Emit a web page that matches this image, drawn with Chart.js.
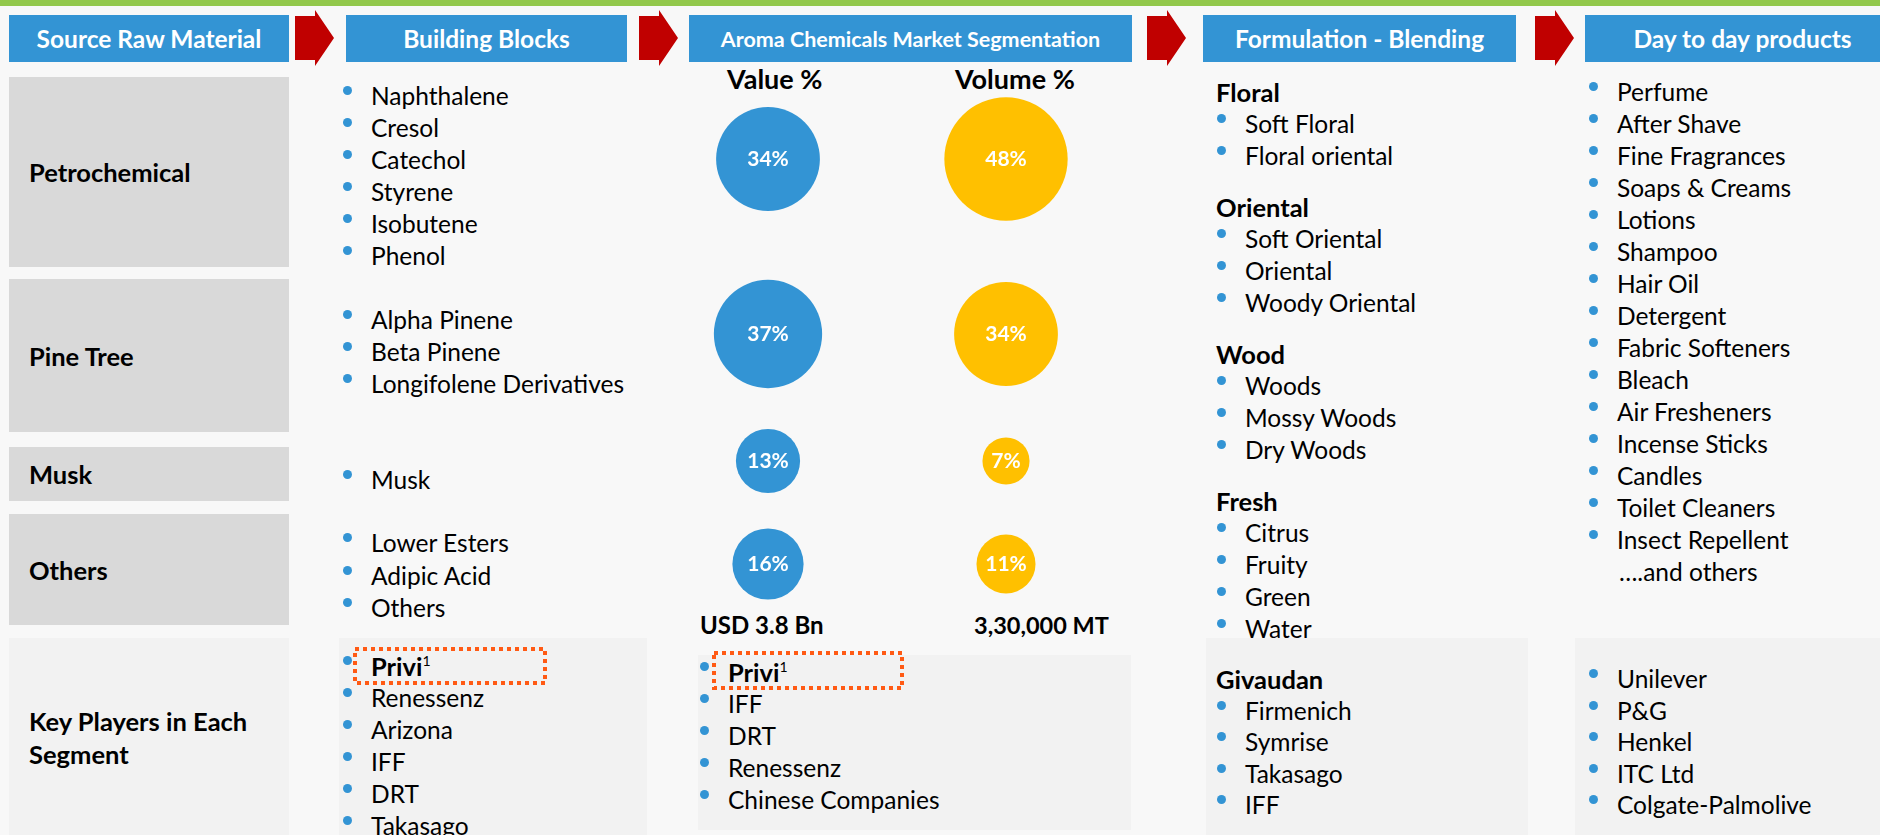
<!DOCTYPE html>
<html>
<head>
<meta charset="utf-8">
<title>Aroma Chemicals Market Segmentation</title>
<script src="https://cdn.jsdelivr.net/npm/chart.js@4.4.1/dist/chart.umd.min.js"></script>
<style>
  html, body { margin: 0; padding: 0; }
  body { width: 1880px; height: 835px; overflow: hidden; position: relative; background: #f8f8f8; font-family: Lato, "Open Sans", sans-serif; color: #000; }
  .topbar { position: absolute; left: 0; top: 0; width: 1880px; height: 6px; background: #92c84c; }
  .head { position: absolute; top: 15px; height: 47px; background: #3394d4; color: #fff; font-weight: bold; font-size: 24.5px; display: flex; align-items: center; justify-content: center; white-space: nowrap; }
  .cell { position: absolute; left: 9px; width: 280px; background: #d9d9d9; font-weight: bold; font-size: 25.5px; display: flex; align-items: center; padding-left: 20px; box-sizing: border-box; }
  .panel { position: absolute; background: #f2f2f2; }
  .item { position: absolute; height: 32px; line-height: 32px; font-size: 24.5px; white-space: nowrap; }
  .item.dot::before { content: ""; position: absolute; left: -28px; top: 6px; width: 9px; height: 9px; border-radius: 50%; background: #3394d4; }
  .item.bold { font-weight: bold; font-size: 25.5px; }
  .item sup { font-size: 14px; line-height: 0; vertical-align: 10px; font-weight: normal; }
  .big { position: absolute; font-weight: bold; font-size: 27px; white-space: nowrap; height: 32px; line-height: 32px; }
  canvas.row { position: absolute; left: 649px; }
  svg.over { position: absolute; left: 0; top: 0; }
</style>
</head>
<body>
<div class="topbar"></div>

<div class="head" style="left:9px;width:280px;">Source Raw Material</div>
<div class="head" style="left:346px;width:281px;">Building Blocks</div>
<div class="head" style="left:689px;width:443px;font-size:21.5px;">Aroma Chemicals Market Segmentation</div>
<div class="head" style="left:1203px;width:313px;">Formulation - Blending</div>
<div class="head" style="left:1585px;width:315px;">Day to day products</div>

<div class="cell" style="top:77px;height:190px;">Petrochemical</div>
<div class="cell" style="top:279px;height:153px;">Pine Tree</div>
<div class="cell" style="top:447px;height:54px;">Musk</div>
<div class="cell" style="top:514px;height:111px;">Others</div>
<div class="cell" style="top:638px;height:200px;background:#f2f2f2;line-height:33px;">Key Players in Each<br>Segment</div>

<div class="panel" style="left:339px;top:638px;width:308px;height:200px;"></div>
<div class="panel" style="left:698px;top:655px;width:433px;height:175px;"></div>
<div class="panel" style="left:1206px;top:638px;width:322px;height:200px;"></div>
<div class="panel" style="left:1575px;top:638px;width:310px;height:200px;"></div>

<div class="big" style="left:727px;top:63px;">Value %</div>
<div class="big" style="left:955px;top:63px;">Volume %</div>
<div class="big" style="left:700px;top:609px;font-size:24px;">USD 3.8 Bn</div>
<div class="big" style="left:974px;top:609px;font-size:23.5px;">3,30,000 MT</div>

<svg class="over" width="1880" height="835">
  <g fill="#c00000">
    <polygon points="295,16 315,16 315,10 334,38 315,66 315,60 295,60"/>
    <polygon points="639,16 659,16 659,10 678,38 659,66 659,60 639,60"/>
    <polygon points="1147,16 1167,16 1167,10 1186,38 1167,66 1167,60 1147,60"/>
    <polygon points="1535,16 1555,16 1555,10 1574,38 1555,66 1555,60 1535,60"/>
  </g>
  <g fill="none" stroke="#ff5a14" stroke-width="4" stroke-dasharray="4 4">
    <rect x="355" y="649" width="190" height="34"/>
    <rect x="714" y="653" width="188" height="35"/>
  </g>
</svg>

<script>
// market split by source raw material
const segments = ["Petrochemical", "Pine Tree", "Musk", "Others"];
const valueShare = [34, 37, 13, 16];
const volumeShare = [48, 34, 7, 11];
const shareLabels = ["Value %", "Volume %"];

// text columns
const petroBlocks = ["Naphthalene", "Cresol", "Catechol", "Styrene", "Isobutene", "Phenol"];
const pineBlocks = ["Alpha Pinene", "Beta Pinene", "Longifolene Derivatives"];
const muskBlocks = ["Musk"];
const otherBlocks = ["Lower Esters", "Adipic Acid", "Others"];
const blockPlayers = ["Privi", "Renessenz", "Arizona", "IFF", "DRT", "Takasago"];
const aromaPlayers = ["Privi", "IFF", "DRT", "Renessenz", "Chinese Companies"];
const blendGroups = [
  ["Floral", ["Soft Floral", "Floral oriental"]],
  ["Oriental", ["Soft Oriental", "Oriental", "Woody Oriental"]],
  ["Wood", ["Woods", "Mossy Woods", "Dry Woods"]],
  ["Fresh", ["Citrus", "Fruity", "Green", "Water"]]
];
const blendPlayers = ["Firmenich", "Symrise", "Takasago", "IFF"];
const products = ["Perfume", "After Shave", "Fine Fragrances", "Soaps & Creams", "Lotions", "Shampoo", "Hair Oil",
  "Detergent", "Fabric Softeners", "Bleach", "Air Fresheners", "Incense Sticks", "Candles", "Toilet Cleaners", "Insect Repellent"];
const productPlayers = ["Unilever", "P&G", "Henkel", "ITC Ltd", "Colgate-Palmolive"];

function addItem(text, x, yc, cls) {
  const d = document.createElement("div");
  d.className = "item " + (cls || "dot");
  d.style.left = x + "px";
  d.style.top = (yc - 16) + "px";
  d.textContent = text;
  if (text === "Privi") {
    d.classList.add("bold");
    const s = document.createElement("sup");
    s.textContent = "1";
    d.appendChild(s);
  }
  document.body.appendChild(d);
}

function addList(items, x, y0, step) {
  items.forEach((t, i) => addItem(t, x, y0 + i * step));
}

addList(petroBlocks, 371, 96, 32);
addList(pineBlocks, 371, 320, 32);
addList(muskBlocks, 371, 480, 32);
addList(otherBlocks, 371, 543, 32.5);
addList(blockPlayers, 371, 666, 32);
addList(aromaPlayers, 728, 672, 32);

let y = 92;
blendGroups.forEach(g => {
  addItem(g[0], 1216, y, "bold");
  addList(g[1], 1245, y + 32, 32);
  y += (g[1].length + 1) * 32 + 19;
});
addItem("Givaudan", 1216, 679, "bold");
addList(blendPlayers, 1245, 710.5, 31.5);

addList(products, 1617, 92, 32);
addItem("\u2026.and others", 1619, 572, "plain");
addList(productPlayers, 1617, 679, 31.5);

// bubbles: one small chart per raw material row
const bubbleLabels = {
  id: "bubbleLabels",
  afterDatasetsDraw(chart) {
    const ctx = chart.ctx;
    chart.data.datasets.forEach((ds, i) => {
      chart.getDatasetMeta(i).data.forEach((el, j) => {
        ctx.save();
        ctx.fillStyle = "#fff";
        ctx.font = "bold 21px Lato";
        ctx.textAlign = "center";
        ctx.textBaseline = "middle";
        ctx.fillText(ds.data[j].v + "%", el.x, el.y);
        ctx.restore();
      });
    });
  }
};

const rowBox = [[89, 140], [269, 130], [426, 70], [519, 90]];
const K = 8.9;

segments.forEach((seg, i) => {
  const c = document.createElement("canvas");
  c.className = "row";
  c.width = 476;
  c.height = rowBox[i][1];
  c.style.top = rowBox[i][0] + "px";
  document.body.appendChild(c);

  new Chart(c, {
    type: "bubble",
    data: {
      datasets: [
        {
          label: shareLabels[0],
          data: [{ x: 0, y: 0, r: K * Math.sqrt(valueShare[i]), v: valueShare[i] }],
          backgroundColor: "#3394d4",
          borderWidth: 0,
          clip: false
        },
        {
          label: shareLabels[1],
          data: [{ x: 1, y: 0, r: K * Math.sqrt(volumeShare[i]), v: volumeShare[i] }],
          backgroundColor: "#ffc000",
          borderWidth: 0,
          clip: false
        }
      ]
    },
    options: {
      responsive: false,
      animation: false,
      events: [],
      layout: { padding: 0, autoPadding: false },
      plugins: {
        legend: { display: false },
        tooltip: { enabled: false },
        title: { display: false }
      },
      scales: {
        x: { type: "linear", min: -0.5, max: 1.5, display: false },
        y: { type: "linear", min: -1, max: 1, display: false }
      }
    },
    plugins: [bubbleLabels]
  });
});
</script>
</body>
</html>
